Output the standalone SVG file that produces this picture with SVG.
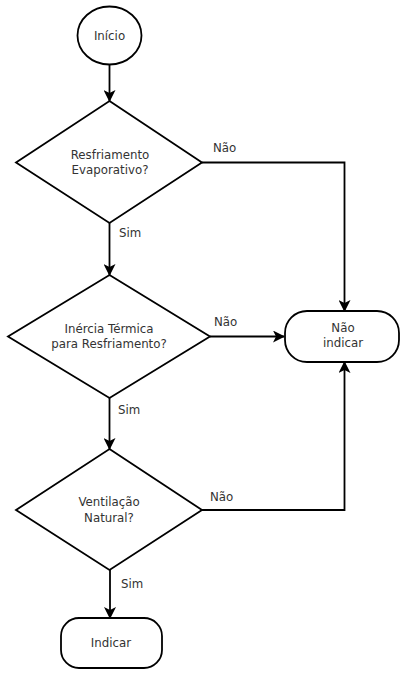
<svg xmlns="http://www.w3.org/2000/svg" width="400" height="673" viewBox="0 0 400 673">
  <defs>
    <marker id="arrow" viewBox="0 0 12 12" refX="11" refY="6" markerWidth="12" markerHeight="12" markerUnits="userSpaceOnUse" orient="auto">
      <path d="M0,0 L12,6 L0,12 L3,6 Z" fill="#000"/>
    </marker>
    <style>
      .shape { fill: #fff; stroke: #000; stroke-width: 1.8; }
      .edge { fill: none; stroke: #000; stroke-width: 1.8; marker-end: url(#arrow); }
      text { font-family: "DejaVu Sans", "Liberation Sans", sans-serif; font-size: 11.8px; fill: #333; text-anchor: middle; }
      .lbl { text-anchor: start; }
    </style>
  </defs>

  <rect width="400" height="673" fill="#fff"/>

  <g id="connectors">
    <path class="edge" d="M109.5,64 L109.5,101"/>
    <path class="edge" d="M109.5,223 L109.5,275"/>
    <path class="edge" d="M109.5,398 L109.5,449"/>
    <path class="edge" d="M110,570 L110,618"/>
    <path class="edge" d="M202,162.5 L344.5,162.5 L344.5,311"/>
    <path class="edge" d="M210,336.5 L284,336.5"/>
    <path class="edge" d="M202,510 L344.5,510 L344.5,362"/>
    <text class="lbl" x="119" y="237">Sim</text>
    <text class="lbl" x="118" y="414">Sim</text>
    <text class="lbl" x="121" y="588">Sim</text>
    <text class="lbl" x="213" y="152">Não</text>
    <text class="lbl" x="214" y="326">Não</text>
    <text class="lbl" x="210" y="501">Não</text>
  </g>

  <g id="inicio">
    <ellipse class="shape" cx="109.5" cy="35.5" rx="32" ry="29"/>
    <text x="109.5" y="40">Início</text>
  </g>

  <g id="resfriamento-evaporativo">
    <polygon class="shape" points="109.5,101 202,162.5 109.5,223 16,162.5"/>
    <text x="110" y="159">Resfriamento</text>
    <text x="110" y="174">Evaporativo?</text>
  </g>

  <g id="inercia-termica">
    <polygon class="shape" points="109.5,275 210,336.5 109.5,398 8,336.5"/>
    <text x="109" y="333">Inércia Térmica</text>
    <text x="109" y="348">para Resfriamento?</text>
  </g>

  <g id="ventilacao-natural">
    <polygon class="shape" points="109.5,449 202,510 109.5,570 16,510"/>
    <text x="109" y="506">Ventilação</text>
    <text x="109" y="522">Natural?</text>
  </g>

  <g id="nao-indicar">
    <rect class="shape" x="285" y="311" width="114" height="51" rx="22" ry="22"/>
    <text x="343" y="332">Não</text>
    <text x="343" y="347">indicar</text>
  </g>

  <g id="indicar">
    <rect class="shape" x="61" y="618" width="101" height="50" rx="18" ry="18"/>
    <text x="111" y="647">Indicar</text>
  </g>
</svg>
